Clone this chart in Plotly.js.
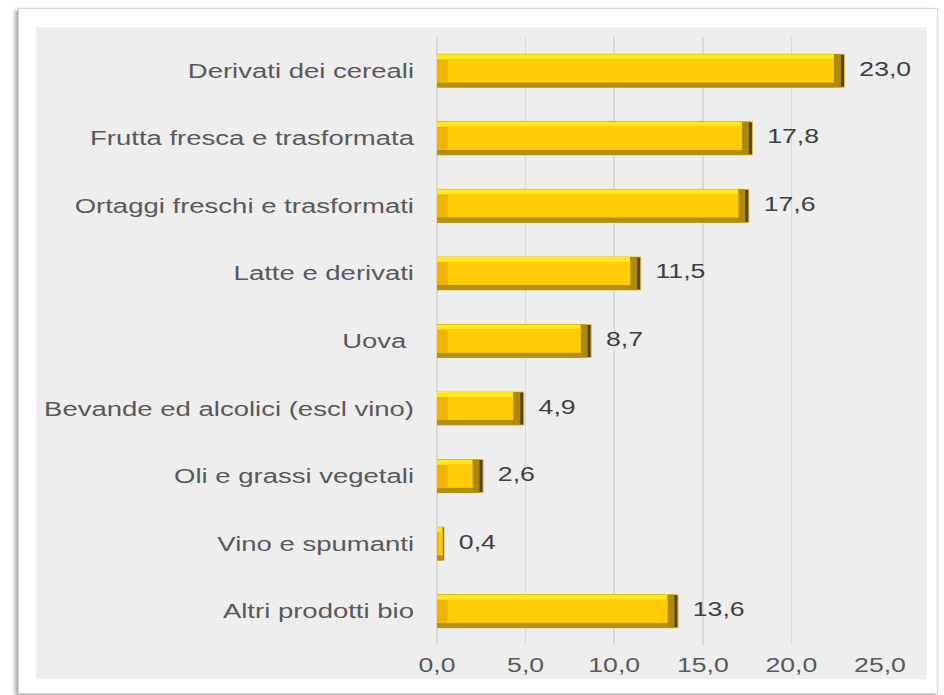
<!DOCTYPE html>
<html>
<head>
<meta charset="utf-8">
<script src="https://cdn.plot.ly/plotly-3.0.1.min.js"></script>
<style>
  html, body { margin:0; padding:0; background:#ffffff; }
  #frame { position:absolute; left:18px; top:8px; width:918px; height:684px; background:#ffffff;
           border:1px solid #d4d4d4; box-shadow:-3px 2px 4px rgba(0,0,0,0.35); }
  #inner { position:absolute; left:36px; top:27px; width:891px; height:652px; background:#eeeeee; }
  #chart { position:absolute; left:0; top:0; width:944px; height:695px; }
</style>
</head>
<body>
<div id="frame"></div>
<div id="inner"></div>
<div id="chart"></div>
<script>
// ---- data ----
const categories = [
  "Derivati dei cereali",
  "Frutta fresca e trasformata",
  "Ortaggi freschi e trasformati",
  "Latte e derivati",
  "Uova\u00a0",
  "Bevande ed alcolici (escl vino)",
  "Oli e grassi vegetali",
  "Vino e spumanti",
  "Altri prodotti bio"
];
const values = [23.0, 17.8, 17.6, 11.5, 8.7, 4.9, 2.6, 0.4, 13.6];
const xTickVals = [0, 5, 10, 15, 20, 25];
const xTickLabels = ["0,0", "5,0", "10,0", "15,0", "20,0", "25,0"];
const valueLabels = ["23,0", "17,8", "17,6", "11,5", "8,7", "4,9", "2,6", "0,4", "13,6"];

// ---- bevelled bar layers (derived from values) ----
const W = 0.49, BY = 0.075;
const bx = values.map(v => Math.min(0.6, v * 0.25));
const dk = values.map(v => Math.max(v - Math.min(0.2, v * 0.1), 0));
const inner = values.map((v, i) => Math.max(v - bx[i], 0));
const bodyLen = values.map((v, i) => Math.max(v - 2 * bx[i], 0));

function barLayer(x, base, width, offset, color, line) {
  return {
    type: 'bar', orientation: 'h', y: categories, x: x, base: base,
    width: width, offset: offset, hoverinfo: 'skip', showlegend: false,
    marker: { color: color, line: line || { width: 0 } }
  };
}

const traces = [
  barLayer(values, 0, W, -W / 2, '#5a4500', { color: '#e0bf55', width: 1 }),
  barLayer(dk, 0, W, -W / 2, '#b08a05'),
  barLayer(inner, 0, W, -W / 2, '#b89008'),
  barLayer(inner, 0, W - BY, -W / 2, '#ffe81f'),
  barLayer(inner, 0, W - 2 * BY, -W / 2 + BY, '#f0b400'),
  barLayer(bodyLen, bx, W - 2 * BY, -W / 2 + BY, '#ffcc05'),
  {
    type: 'scatter', mode: 'text', x: values, y: categories,
    text: valueLabels.map(s => '\u00a0\u00a0' + s), textposition: 'middle right',
    textfont: { family: 'Liberation Sans, Arial, sans-serif', size: 20, color: '#404040' },
    hoverinfo: 'skip', showlegend: false, cliponaxis: false
  }
];

const layout = {
  width: 944, height: 695,
  margin: { l: 437, r: 64, t: 37, b: 50 },
  paper_bgcolor: 'rgba(0,0,0,0)', plot_bgcolor: 'rgba(0,0,0,0)',
  barmode: 'overlay',
  showlegend: false,
  font: { family: 'Liberation Sans, Arial, sans-serif', size: 20, color: '#595959' },
  xaxis: {
    range: [0, 25], tickvals: xTickVals, ticktext: xTickLabels,
    showgrid: true, gridcolor: '#d9d9d9', gridwidth: 1.5,
    zeroline: true, zerolinecolor: '#d9d9d9', zerolinewidth: 1.5,
    showline: false, ticks: '', ticklabelstandoff: 6,
    tickfont: { size: 20, color: '#595959' }, fixedrange: true
  },
  yaxis: {
    type: 'category', range: [8.5, -0.5],
    showgrid: false, zeroline: false, showline: false, ticks: '',
    ticklabelstandoff: 22,
    tickfont: { size: 20, color: '#595959' }, fixedrange: true
  }
};

Plotly.newPlot('chart', traces, layout, { staticPlot: true, displayModeBar: false }).then(gd => {
  const stretch = (sel, S) => gd.querySelectorAll(sel).forEach(t => {
    const L = t.getComputedTextLength();
    t.setAttribute('textLength', (L * S).toFixed(1));
    t.setAttribute('lengthAdjust', 'spacingAndGlyphs');
  });
  stretch('.ytick text', 1.375);
  stretch('.xtick text, .textpoint text', 1.33);
});
</script>
</body>
</html>
